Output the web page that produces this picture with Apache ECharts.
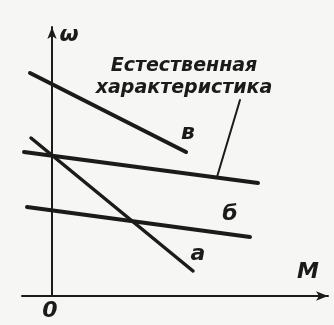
<!DOCTYPE html>
<html>
<head>
<meta charset="utf-8">
<script src="https://cdn.jsdelivr.net/npm/echarts@6/dist/echarts.min.js"></script>
<style>
  html, body { margin: 0; padding: 0; background: #f6f6f4; }
  #chart { width: 334px; height: 325px; }
</style>
</head>
<body>
<div id="chart"></div>
<script>
// ω(M) characteristics, arbitrary units (M to the right, ω up)
const lineV = [[-22, 223], [134, 144]];
const lineNatural = [[-28, 144], [206, 113]];
const lineA = [[-21, 158], [141, 25]];
const lineB = [[-25, 89], [198, 59]];
const leader = [[165, 119], [188, 196]];

const curveNames = ['в', 'б', 'а'];
const titleLines = ['Естественная', 'характеристика'];

const ink = '#1b1b1b';
const handFont = 'DejaVu Sans';

const chart = echarts.init(document.getElementById('chart'), null, { renderer: 'canvas' });

const lineSeries = (data, width) => ({
  type: 'line',
  data: data,
  symbol: 'none',
  silent: true,
  lineStyle: { color: ink, width: width, cap: 'round' },
});

const txt = (text, x, y, size, weight) => ({
  type: 'text',
  x: x,
  y: y,
  style: {
    text: text,
    fill: ink,
    font: 'italic ' + (weight || 'normal') + ' ' + size + 'px "' + handFont + '"',
    align: 'center',
    verticalAlign: 'middle',
  },
});

chart.setOption({
  animation: false,
  backgroundColor: '#f6f6f4',
  grid: { left: 22, right: 6, top: 27, bottom: 29 },
  xAxis: {
    type: 'value',
    min: -30,
    max: 276,
    axisLine: { onZero: true, symbol: ['none', 'arrow'], symbolSize: [7, 12], lineStyle: { color: ink, width: 2 } },
    axisTick: { show: false },
    axisLabel: { show: false },
    splitLine: { show: false },
  },
  yAxis: {
    type: 'value',
    min: 0,
    max: 269,
    axisLine: { onZero: true, symbol: ['none', 'arrow'], symbolSize: [7, 12], lineStyle: { color: ink, width: 2 } },
    axisTick: { show: false },
    axisLabel: { show: false },
    splitLine: { show: false },
  },
  series: [
    lineSeries(lineV, 4),
    lineSeries(lineNatural, 4),
    lineSeries(lineA, 3.5),
    lineSeries(lineB, 4),
    lineSeries(leader, 2),
  ],
  graphic: {
    elements: [
      txt('ω', 69, 35, 22, 'bold'),
      txt('M', 308, 272, 22, 'bold'),
      txt('0', 50, 311, 22, 'bold'),
      txt(curveNames[0], 188, 133, 22, 'bold'),
      txt(curveNames[1], 230, 214, 22, 'bold'),
      txt(curveNames[2], 198, 254, 22, 'bold'),
      txt(titleLines[0], 184, 66, 19, 'bold'),
      txt(titleLines[1], 184, 88, 19, 'bold'),
    ],
  },
});
</script>
</body>
</html>
